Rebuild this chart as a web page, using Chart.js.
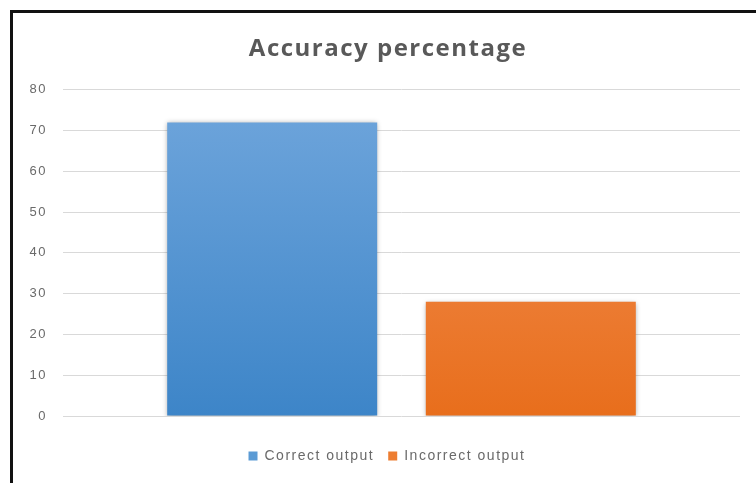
<!DOCTYPE html>
<html>
<head>
<meta charset="utf-8">
<script src="https://cdn.jsdelivr.net/npm/chart.js@4.4.0/dist/chart.umd.min.js"></script>
<style>
  html, body { margin: 0; padding: 0; background: #fff; }
  #wrap { position: relative; width: 756px; height: 483px; overflow: hidden; }
  #frame {
    position: absolute; left: 10px; top: 10px; width: 760px; height: 471px;
    border-left: 3px solid #111; border-top: 3px solid #111;
    border-bottom: 1px solid #e6e6e6;
  }
  canvas { position: absolute; left: 0; top: 0; }
</style>
</head>
<body>
<div id="wrap">
  <div id="frame"></div>
  <canvas id="accuracy-chart" width="756" height="483"></canvas>
</div>
<script>
// Values
const categories = [''];
const seriesNames = ['Correct output', 'Incorrect output'];
const correctValues = [72];
const incorrectValues = [28];
const yTicks = [0, 10, 20, 30, 40, 50, 60, 70, 80];

const legendColors = ['#5b9bd5', '#ed7d31'];

function gradient(top, bottom) {
    return (context) => {
        const area = context.chart.chartArea;
        if (!area) return bottom;
        const g = context.chart.ctx.createLinearGradient(0, area.top, 0, area.bottom);
        g.addColorStop(0, top);
        g.addColorStop(1, bottom);
        return g;
    };
}

// the Office text is spaced wider; canvas resets state so set it every pass
const wideText = {
    id: 'wideText',
    beforeUpdate(chart) { chart.ctx.letterSpacing = '1.5px'; },
    beforeDraw(chart) { chart.ctx.letterSpacing = '1.5px'; },
    // title and legend sit a bit right of the canvas centre in the original
    afterLayout(chart) {
        if (chart.titleBlock) chart.titleBlock.left += 36;
        if (chart.legend) chart.legend.left += 34;
    }
};

// soft drop shadow under the bars, like the Office style
const barShadow = {
    id: 'barShadow',
    beforeDatasetsDraw(chart) {
        const ctx = chart.ctx;
        ctx.save();
        ctx.shadowColor = 'rgba(0,0,0,0.35)';
        ctx.shadowBlur = 5;
        ctx.shadowOffsetX = 0;
        ctx.shadowOffsetY = 1;
    },
    afterDatasetsDraw(chart) {
        chart.ctx.restore();
    }
};

const ctx = document.getElementById('accuracy-chart').getContext('2d');

new Chart(ctx, {
    type: 'bar',
    data: {
        labels: categories,
        datasets: [{
            label: seriesNames[0],
            data: correctValues,
            backgroundColor: gradient('#70a6dc', '#3d85c8')
        }, {
            label: seriesNames[1],
            data: incorrectValues,
            backgroundColor: gradient('#f3935a', '#e86e1c')
        }]
    },
    options: {
        responsive: false,
        animation: false,
        layout: { padding: { top: 10, right: 16, bottom: 10, left: 0 } },
        datasets: {
            bar: { categoryPercentage: 0.764, barPercentage: 0.812 }
        },
        plugins: {
            title: {
                display: true,
                text: 'Accuracy percentage',
                color: '#595959',
                font: { family: 'Open Sans', size: 24, weight: 'bold' },
                padding: { top: 25, bottom: 26 }
            },
            legend: {
                position: 'bottom',
                labels: {
                    color: '#6a6a6a',
                    font: { family: 'Liberation Sans', size: 14 },
                    boxWidth: 9,
                    boxHeight: 9,
                    padding: 14,
                    generateLabels(chart) {
                        const items = Chart.defaults.plugins.legend.labels.generateLabels(chart);
                        items.forEach((item, i) => {
                            item.fillStyle = legendColors[i];
                            item.strokeStyle = legendColors[i];
                            item.lineWidth = 0;
                        });
                        return items;
                    }
                }
            },
            tooltip: { enabled: false }
        },
        scales: {
            x: {
                afterFit(axis) {
                    axis.height = 19;
                },
                grid: { display: false },
                border: { display: false },
                ticks: { display: false }
            },
            y: {
                min: 0,
                max: 80,
                afterBuildTicks(axis) {
                    axis.ticks = yTicks.map(v => ({ value: v }));
                },
                afterFit(axis) {
                    axis.width = 63;
                },
                grid: { color: '#d9d9d9', drawTicks: false },
                border: { display: false },
                ticks: {
                    color: '#6a6a6a',
                    font: { family: 'Liberation Sans', size: 13 },
                    padding: 16
                }
            }
        }
    },
    plugins: [wideText, barShadow]
});
</script>
</body>
</html>
